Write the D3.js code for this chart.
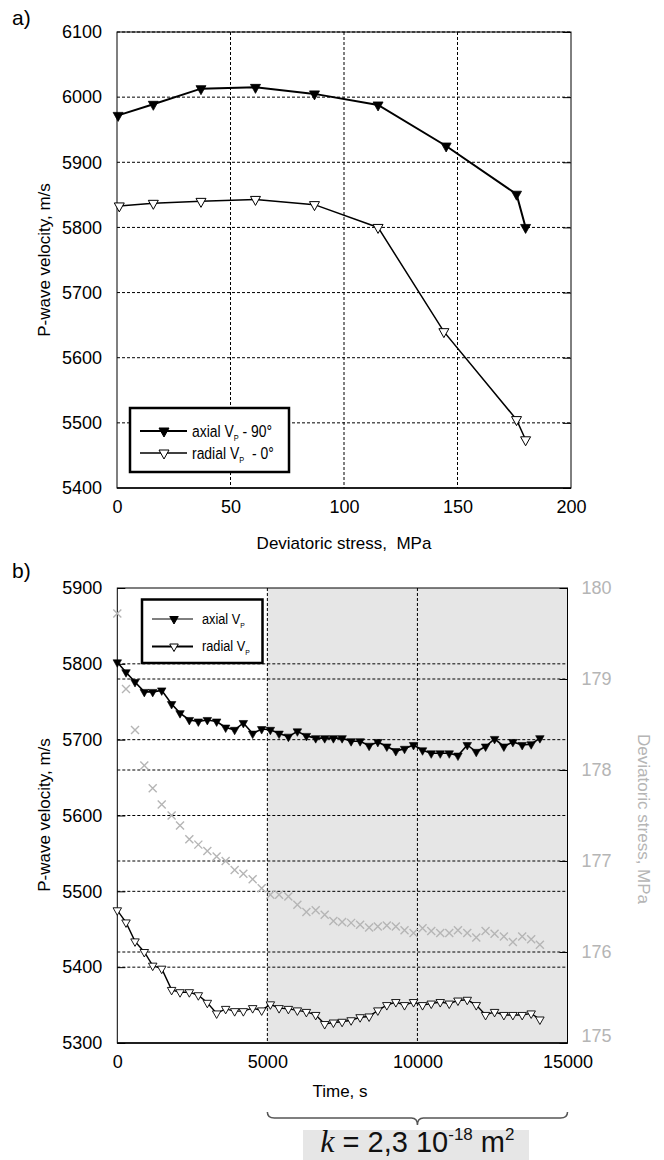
<!DOCTYPE html>
<html>
<head>
<meta charset="utf-8">
<script src="https://cdn.jsdelivr.net/npm/d3@7"></script>
<style>
  body { margin: 0; background: #fff; }
  text { font-family: "Liberation Sans", Arial, sans-serif; }
</style>
</head>
<body>
<svg id="chart" width="664" height="1160"></svg>
<script>
// panel a: velocity vs deviatoric stress
var stressAxial = [0.5, 16, 37, 61, 87, 115, 145, 176, 180];
var vpAxialA = [5972, 5989, 6013, 6015, 6005, 5988, 5925, 5851, 5800];
var stressRadial = [1, 16, 37, 61, 87, 115, 144, 176, 180];
var vpRadialA = [5833, 5837, 5840, 5843, 5835, 5800, 5640, 5505, 5474];
var xTicksA = [0, 50, 100, 150, 200];
var yTicksA = [5400, 5500, 5600, 5700, 5800, 5900, 6000, 6100];

// panel b: velocity and stress vs time
var timeB = [0, 290, 590, 900, 1180, 1480, 1810, 2090, 2400, 2700, 3000, 3310, 3610, 3910, 4200, 4510,
  4810, 5100, 5390, 5700, 6000, 6300, 6610, 6910, 7200, 7490, 7790, 8090, 8390, 8680, 8980, 9280,
  9570, 9870, 10170, 10460, 10760, 11060, 11350, 11660, 11960, 12270, 12570, 12880, 13180, 13490, 13790, 14080];
var vpAxialB = [5802, 5789, 5776, 5763, 5763, 5765, 5747, 5735, 5726, 5724, 5726, 5724, 5716, 5713, 5722, 5708,
  5714, 5713, 5708, 5704, 5711, 5705, 5702, 5702, 5702, 5702, 5698, 5698, 5692, 5697, 5691, 5685,
  5688, 5693, 5686, 5682, 5682, 5682, 5679, 5693, 5684, 5691, 5701, 5691, 5697, 5693, 5694, 5702];
var vpRadialB = [5475, 5459, 5434, 5420, 5402, 5398, 5370, 5367, 5367, 5363, 5353, 5339, 5345, 5342, 5342, 5346,
  5343, 5351, 5346, 5345, 5343, 5341, 5337, 5325, 5327, 5328, 5330, 5334, 5335, 5343, 5350, 5354,
  5350, 5354, 5350, 5352, 5354, 5352, 5356, 5357, 5350, 5337, 5341, 5337, 5337, 5337, 5339, 5331];
var devStressB = [179.72, 178.89, 178.44, 178.05, 177.80, 177.62, 177.50, 177.39, 177.24, 177.18, 177.11, 177.05,
  177.00, 176.90, 176.86, 176.80, 176.70, 176.63, 176.63, 176.61, 176.52, 176.44, 176.46, 176.41,
  176.34, 176.33, 176.32, 176.30, 176.27, 176.28, 176.29, 176.28, 176.24, 176.21, 176.26, 176.23,
  176.21, 176.21, 176.24, 176.21, 176.16, 176.23, 176.20, 176.17, 176.11, 176.17, 176.14, 176.08];
var xTicksB = [0, 5000, 10000, 15000];
var yTicksB = [5300, 5400, 5500, 5600, 5700, 5800, 5900];
var yTicksBRight = [175, 176, 177, 178, 179, 180];
var shadeRange = [5000, 15000];

var svg = d3.select("#chart");
var grey = "#b5b5b5";
var fmt = d3.format("d");

function tri(w, h) {
  return "M" + (-w / 2) + "," + (-h / 3) + "L" + (w / 2) + "," + (-h / 3) + "L0," + (2 * h / 3) + "Z";
}

function gridAndFrame(g, x, y, xt, yt, left, right, top, bottom) {
  g.append("g").selectAll("line").data(xt.filter(function(d, i) { return i > 0 && i < xt.length - 1; }))
    .enter().append("line")
    .attr("x1", function(d) { return x(d); }).attr("x2", function(d) { return x(d); })
    .attr("y1", top).attr("y2", bottom)
    .attr("stroke", "#000").attr("stroke-width", 1).attr("stroke-dasharray", "3,2");
  g.append("g").selectAll("line").data(yt)
    .enter().append("line")
    .attr("x1", left).attr("x2", right)
    .attr("y1", function(d) { return y(d); }).attr("y2", function(d) { return y(d); })
    .attr("stroke", "#000").attr("stroke-width", 1).attr("stroke-dasharray", "3,2");
}

// ---------- panel a ----------
var xA = d3.scaleLinear().domain([0, 200]).range([117, 571]);
var yA = d3.scaleLinear().domain([5400, 6100]).range([488, 32]);

var ga = svg.append("g");
gridAndFrame(ga, xA, yA, xTicksA, yTicksA.slice(1), 117, 571, 32, 488);

ga.append("rect").attr("x", 117).attr("y", 32).attr("width", 571 - 117).attr("height", 488 - 32)
  .attr("fill", "none").attr("stroke", "#000").attr("stroke-width", 1);
ga.append("line").attr("x1", 117).attr("x2", 571).attr("y1", 488).attr("y2", 488)
  .attr("stroke", "#000").attr("stroke-width", 1.5);

ga.append("g").attr("transform", "translate(117,0)")
  .call(d3.axisLeft(yA).tickValues(yTicksA).tickSize(0).tickPadding(15).tickFormat(fmt))
  .call(function(g) { g.select(".domain").remove(); });
ga.append("g").attr("transform", "translate(571,0)")
  .call(d3.axisRight(yA).tickValues(yTicksA).tickSize(-8).tickFormat(""))
  .call(function(g) { g.select(".domain").remove(); });
ga.append("g").attr("transform", "translate(0,488)")
  .call(d3.axisBottom(xA).tickValues(xTicksA).tickSize(0).tickPadding(12).tickFormat(fmt))
  .call(function(g) { g.select(".domain").remove(); });

ga.selectAll(".tick text").attr("font-size", 18).attr("font-family", "Liberation Sans, Arial, sans-serif").attr("fill", "#000");

var lineA = d3.line().x(function(d) { return xA(d[0]); }).y(function(d) { return yA(d[1]); });
var axialA = d3.zip(stressAxial, vpAxialA);
var radialA = d3.zip(stressRadial, vpRadialA);

ga.append("path").datum(axialA).attr("d", lineA).attr("fill", "none").attr("stroke", "#000").attr("stroke-width", 2);
ga.append("path").datum(radialA).attr("d", lineA).attr("fill", "none").attr("stroke", "#000").attr("stroke-width", 1.5);

ga.append("g").selectAll("path").data(axialA).enter().append("path")
  .attr("d", tri(10, 9))
  .attr("transform", function(d) { return "translate(" + xA(d[0]) + "," + yA(d[1]) + ")"; })
  .attr("fill", "#000").attr("stroke", "#000").attr("stroke-width", 0.8);
ga.append("g").selectAll("path").data(radialA).enter().append("path")
  .attr("d", tri(10, 9))
  .attr("transform", function(d) { return "translate(" + xA(d[0]) + "," + yA(d[1]) + ")"; })
  .attr("fill", "#fff").attr("stroke", "#000").attr("stroke-width", 1);

// legend a
var lgA = ga.append("g");
lgA.append("rect").attr("x", 130).attr("y", 408).attr("width", 159).attr("height", 64)
  .attr("fill", "#fff").attr("stroke", "#000").attr("stroke-width", 2.5);
[["axial V", " - 90°", "#000", 2, 431], ["radial V", "  - 0°", "#fff", 1.5, 453]].forEach(function(r) {
  lgA.append("line").attr("x1", 140).attr("x2", 187).attr("y1", r[4]).attr("y2", r[4])
    .attr("stroke", "#000").attr("stroke-width", r[3]);
  lgA.append("path").attr("d", tri(10, 9)).attr("transform", "translate(164," + r[4] + ")")
    .attr("fill", r[2]).attr("stroke", "#000");
  var t = lgA.append("text").attr("x", 192).attr("y", r[4] + 6).attr("font-size", 17)
    .attr("xml:space", "preserve")
    .attr("transform", "translate(192,0) scale(0.82,1) translate(-192,0)");
  t.append("tspan").text(r[0]);
  t.append("tspan").attr("dy", 4).attr("font-size", 9).text("P");
  t.append("tspan").attr("dy", -4).text(r[1]);
});

ga.append("text").attr("x", 12).attr("y", 25).attr("font-size", 21).text("a)");
ga.append("text").attr("x", 344).attr("y", 549).attr("text-anchor", "middle").attr("font-size", 17)
  .attr("xml:space", "preserve").text("Deviatoric stress,  MPa");
ga.append("text").attr("transform", "translate(50,260) rotate(-90)").attr("text-anchor", "middle")
  .attr("font-size", 17).text("P-wave velocity, m/s");

// ---------- panel b ----------
var xB = d3.scaleLinear().domain([0, 15000]).range([117.3, 567.5]);
var yB = d3.scaleLinear().domain([5300, 5900]).range([1043, 588]);
var yR = d3.scaleLinear().domain([175, 180]).range([1043, 588]);

var gb = svg.append("g");
gb.append("rect").attr("x", xB(shadeRange[0])).attr("y", 588)
  .attr("width", xB(shadeRange[1]) - xB(shadeRange[0])).attr("height", 1043 - 588)
  .attr("fill", "#e6e6e6");

gridAndFrame(gb, xB, yB, xTicksB, yTicksB.slice(1, -1), 117.3, 567.5, 588, 1043);
gb.append("g").selectAll("line").data(yTicksBRight.slice(1, -1)).enter().append("line")
  .attr("x1", 117.3).attr("x2", 567.5)
  .attr("y1", function(d) { return yR(d); }).attr("y2", function(d) { return yR(d); })
  .attr("stroke", "#000").attr("stroke-width", 1).attr("stroke-dasharray", "3,2");

gb.append("rect").attr("x", 117.3).attr("y", 588).attr("width", 567.5 - 117.3).attr("height", 1043 - 588)
  .attr("fill", "none").attr("stroke", "#000").attr("stroke-width", 1);
gb.append("line").attr("x1", 117.3).attr("x2", 567.5).attr("y1", 1043).attr("y2", 1043)
  .attr("stroke", "#000").attr("stroke-width", 1.5);

gb.append("g").attr("transform", "translate(117.3,0)")
  .call(d3.axisLeft(yB).tickValues(yTicksB).tickSize(-8).tickPadding(15).tickFormat(fmt))
  .call(function(g) { g.select(".domain").remove(); });
gb.append("g").attr("class", "right-axis").attr("transform", "translate(567.5,0)")
  .call(d3.axisRight(yR).tickValues(yTicksBRight).tickSize(-8).tickPadding(14).tickFormat(fmt))
  .call(function(g) { g.select(".domain").remove(); });
gb.append("g").attr("transform", "translate(0,1043)")
  .call(d3.axisBottom(xB).tickValues(xTicksB).tickSize(0).tickPadding(12).tickFormat(fmt))
  .call(function(g) { g.select(".domain").remove(); });

gb.selectAll(".tick text").attr("font-size", 18).attr("font-family", "Liberation Sans, Arial, sans-serif").attr("fill", "#000");
gb.selectAll(".right-axis .tick text").attr("fill", grey).attr("font-size", 18);
gb.selectAll(".right-axis .tick").filter(function(d) { return d === 175; }).select("text").attr("y", -7);

// stress crosses
gb.append("g").selectAll("path").data(d3.zip(timeB, devStressB)).enter().append("path")
  .attr("d", "M-4,-4L4,4M-4,4L4,-4")
  .attr("transform", function(d) { return "translate(" + xB(d[0]) + "," + yR(d[1]) + ")"; })
  .attr("stroke", grey).attr("stroke-width", 1.4).attr("fill", "none");

var lineB = d3.line().x(function(d) { return xB(d[0]); }).y(function(d) { return yB(d[1]); });
var axialB = d3.zip(timeB, vpAxialB);
var radialB = d3.zip(timeB, vpRadialB);

gb.append("path").datum(axialB).attr("d", lineB).attr("fill", "none").attr("stroke", "#000").attr("stroke-width", 1.6);
gb.append("path").datum(radialB).attr("d", lineB).attr("fill", "none").attr("stroke", "#000").attr("stroke-width", 1.4);

gb.append("g").selectAll("path").data(axialB).enter().append("path")
  .attr("d", tri(8.5, 7.5))
  .attr("transform", function(d) { return "translate(" + xB(d[0]) + "," + yB(d[1]) + ")"; })
  .attr("fill", "#000").attr("stroke", "#000").attr("stroke-width", 0.6);
gb.append("g").selectAll("path").data(radialB).enter().append("path")
  .attr("d", tri(8.5, 7.5))
  .attr("transform", function(d) { return "translate(" + xB(d[0]) + "," + yB(d[1]) + ")"; })
  .attr("fill", "#fff").attr("stroke", "#000").attr("stroke-width", 0.9);

// legend b
var lgB = gb.append("g");
lgB.append("rect").attr("x", 142).attr("y", 599.5).attr("width", 120.5).attr("height", 63.5)
  .attr("fill", "#fff").attr("stroke", "#000").attr("stroke-width", 2.5);
[["axial V", "#000", 1, 619], ["radial V", "#fff", 2, 646.5]].forEach(function(r) {
  lgB.append("line").attr("x1", 152).attr("x2", 193).attr("y1", r[3]).attr("y2", r[3])
    .attr("stroke", "#000").attr("stroke-width", r[2]);
  lgB.append("path").attr("d", tri(8.5, 7.5)).attr("transform", "translate(174," + r[3] + ")")
    .attr("fill", r[1]).attr("stroke", "#000");
  var t = lgB.append("text").attr("x", 202).attr("y", r[3] + 5).attr("font-size", 15)
    .attr("transform", "translate(202,0) scale(0.85,1) translate(-202,0)");
  t.append("tspan").text(r[0]);
  t.append("tspan").attr("dy", 4).attr("font-size", 8).text("P");
});

gb.append("text").attr("x", 12).attr("y", 578).attr("font-size", 21).text("b)");
gb.append("text").attr("x", 340).attr("y", 1097).attr("text-anchor", "middle").attr("font-size", 17).text("Time, s");
gb.append("text").attr("transform", "translate(50,815) rotate(-90)").attr("text-anchor", "middle")
  .attr("font-size", 17).text("P-wave velocity, m/s");
gb.append("text").attr("transform", "translate(638,819) rotate(90)").attr("text-anchor", "middle")
  .attr("font-size", 17).attr("fill", grey).text("Deviatoric stress, MPa");

// brace over the shaded interval
var bx0 = xB(shadeRange[0]), bx1 = xB(shadeRange[1]), bm = (bx0 + bx1) / 2;
gb.append("path")
  .attr("d", "M" + bx0 + ",1112 Q" + bx0 + ",1118 " + (bx0 + 7) + ",1118 L" + (bm - 6) + ",1118 Q" + bm + ",1118 " + bm + ",1125"
    + " Q" + bm + ",1118 " + (bm + 6) + ",1118 L" + (bx1 - 7) + ",1118 Q" + bx1 + ",1118 " + bx1 + ",1112")
  .attr("fill", "none").attr("stroke", "#555").attr("stroke-width", 1.5);

gb.append("rect").attr("x", 303).attr("y", 1130).attr("width", 226).attr("height", 30).attr("fill", "#e6e6e6");
var kt = gb.append("text").attr("x", bm).attr("y", 1152).attr("text-anchor", "middle").attr("font-size", 29).attr("fill", "#111");
kt.append("tspan").attr("font-family", "Liberation Serif, serif").attr("font-style", "italic").attr("font-size", 32).text("k");
kt.append("tspan").text(" = 2,3 10");
kt.append("tspan").attr("dy", -12).attr("font-size", 17).text("-18");
kt.append("tspan").attr("dy", 12).text(" m");
kt.append("tspan").attr("dy", -12).attr("font-size", 17).text("2");
</script>
</body>
</html>
